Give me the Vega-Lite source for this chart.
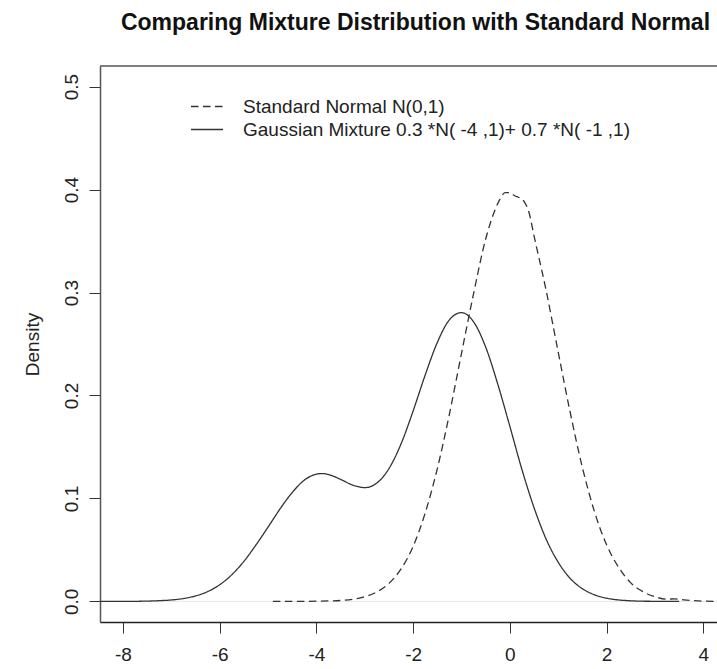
{
  "$schema": "https://vega.github.io/schema/vega-lite/v6.json",
  "width": 617,
  "height": 556,
  "autosize": {"type": "none"},
  "padding": {"left": 100, "top": 66, "right": 0, "bottom": 47},
  "background": "white",
  "config": {"font": "Liberation Sans", "view": {"stroke": null}},
  "title": {
    "text": "Comparing Mixture Distribution with Standard Normal",
    "font": "Liberation Sans",
    "fontSize": 23,
    "fontWeight": "bold",
    "color": "#111111",
    "anchor": "middle",
    "frame": "group",
    "dx": 7,
    "offset": 12,
    "baseline": "alphabetic"
  },
  "datasets": {
    "curves": [
      {"series": "mixture", "x": -8.5, "density": 0.0},
      {"series": "mixture", "x": -8.0, "density": 0.0},
      {"series": "mixture", "x": -7.5, "density": 0.0003},
      {"series": "mixture", "x": -7.25, "density": 0.0007},
      {"series": "mixture", "x": -7.0, "density": 0.0014},
      {"series": "mixture", "x": -6.75, "density": 0.0028},
      {"series": "mixture", "x": -6.5, "density": 0.0053},
      {"series": "mixture", "x": -6.25, "density": 0.0095},
      {"series": "mixture", "x": -6.0, "density": 0.0162},
      {"series": "mixture", "x": -5.75, "density": 0.0259},
      {"series": "mixture", "x": -5.5, "density": 0.0389},
      {"series": "mixture", "x": -5.25, "density": 0.0548},
      {"series": "mixture", "x": -5.0, "density": 0.0722},
      {"series": "mixture", "x": -4.75, "density": 0.09},
      {"series": "mixture", "x": -4.5, "density": 0.1058},
      {"series": "mixture", "x": -4.25, "density": 0.1178},
      {"series": "mixture", "x": -4.0, "density": 0.1236},
      {"series": "mixture", "x": -3.875, "density": 0.1242},
      {"series": "mixture", "x": -3.75, "density": 0.1232},
      {"series": "mixture", "x": -3.5, "density": 0.1185},
      {"series": "mixture", "x": -3.25, "density": 0.113},
      {"series": "mixture", "x": -3.0, "density": 0.1105},
      {"series": "mixture", "x": -2.75, "density": 0.115},
      {"series": "mixture", "x": -2.5, "density": 0.129},
      {"series": "mixture", "x": -2.25, "density": 0.153},
      {"series": "mixture", "x": -2.0, "density": 0.185},
      {"series": "mixture", "x": -1.75, "density": 0.22},
      {"series": "mixture", "x": -1.5, "density": 0.2515},
      {"series": "mixture", "x": -1.25, "density": 0.2735},
      {"series": "mixture", "x": -1.0, "density": 0.2805},
      {"series": "mixture", "x": -0.75, "density": 0.2715},
      {"series": "mixture", "x": -0.5, "density": 0.247},
      {"series": "mixture", "x": -0.25, "density": 0.211},
      {"series": "mixture", "x": 0.0, "density": 0.17},
      {"series": "mixture", "x": 0.25, "density": 0.128},
      {"series": "mixture", "x": 0.5, "density": 0.091},
      {"series": "mixture", "x": 0.75, "density": 0.0605},
      {"series": "mixture", "x": 1.0, "density": 0.038},
      {"series": "mixture", "x": 1.25, "density": 0.0222},
      {"series": "mixture", "x": 1.5, "density": 0.0123},
      {"series": "mixture", "x": 1.75, "density": 0.0064},
      {"series": "mixture", "x": 2.0, "density": 0.0031},
      {"series": "mixture", "x": 2.25, "density": 0.0014},
      {"series": "mixture", "x": 2.5, "density": 0.0006},
      {"series": "mixture", "x": 2.75, "density": 0.0002},
      {"series": "mixture", "x": 3.0, "density": 0.0001},
      {"series": "mixture", "x": 3.5, "density": 0.0},
      {"series": "normal", "x": -4.9, "density": 0.0},
      {"series": "normal", "x": -4.5, "density": 0.0},
      {"series": "normal", "x": -4.0, "density": 0.0002},
      {"series": "normal", "x": -3.5, "density": 0.0009},
      {"series": "normal", "x": -3.25, "density": 0.002},
      {"series": "normal", "x": -3.0, "density": 0.0045},
      {"series": "normal", "x": -2.75, "density": 0.0092},
      {"series": "normal", "x": -2.5, "density": 0.0175},
      {"series": "normal", "x": -2.25, "density": 0.0315},
      {"series": "normal", "x": -2.0, "density": 0.0535},
      {"series": "normal", "x": -1.75, "density": 0.086},
      {"series": "normal", "x": -1.5, "density": 0.129},
      {"series": "normal", "x": -1.25, "density": 0.182},
      {"series": "normal", "x": -1.0, "density": 0.241},
      {"series": "normal", "x": -0.75, "density": 0.299},
      {"series": "normal", "x": -0.5, "density": 0.352},
      {"series": "normal", "x": -0.3, "density": 0.381},
      {"series": "normal", "x": -0.2, "density": 0.391},
      {"series": "normal", "x": -0.1, "density": 0.397},
      {"series": "normal", "x": 0.0, "density": 0.397},
      {"series": "normal", "x": 0.1, "density": 0.394},
      {"series": "normal", "x": 0.2, "density": 0.392},
      {"series": "normal", "x": 0.3, "density": 0.388},
      {"series": "normal", "x": 0.4, "density": 0.377},
      {"series": "normal", "x": 0.5, "density": 0.355},
      {"series": "normal", "x": 0.75, "density": 0.302},
      {"series": "normal", "x": 1.0, "density": 0.242},
      {"series": "normal", "x": 1.25, "density": 0.183},
      {"series": "normal", "x": 1.5, "density": 0.13},
      {"series": "normal", "x": 1.75, "density": 0.087},
      {"series": "normal", "x": 2.0, "density": 0.055},
      {"series": "normal", "x": 2.25, "density": 0.033},
      {"series": "normal", "x": 2.5, "density": 0.018},
      {"series": "normal", "x": 2.75, "density": 0.0095},
      {"series": "normal", "x": 3.0, "density": 0.0045},
      {"series": "normal", "x": 3.25, "density": 0.0022},
      {"series": "normal", "x": 3.4, "density": 0.0025},
      {"series": "normal", "x": 3.6, "density": 0.0015},
      {"series": "normal", "x": 4.0, "density": 0.0003},
      {"series": "normal", "x": 4.5, "density": 0.0}
    ]
  },
  "layer": [
    {
      "data": {"values": [{"level": 0}]},
      "mark": {"type": "rule", "color": "#e6e6e6", "strokeWidth": 1},
      "encoding": {"y": {"field": "level", "type": "quantitative"}}
    },
    {
      "data": {"values": [{"level": 0.52}]},
      "mark": {"type": "rule", "color": "#555555", "strokeWidth": 1.5},
      "encoding": {"y": {"field": "level", "type": "quantitative"}}
    },
    {
      "data": {"name": "curves"},
      "mark": {"type": "line", "clip": true, "color": "#333333", "strokeWidth": 1.3, "interpolate": "monotone"},
      "encoding": {
        "x": {
          "field": "x",
          "type": "quantitative",
          "scale": {"domain": [-8.475, 4.283], "nice": false, "zero": false},
          "axis": {
            "values": [-8, -6, -4, -2, 0, 2, 4],
            "labelExpr": "datum.value < 0 ? '-' + abs(datum.value) : '' + datum.value",
            "title": null,
            "grid": false,
            "labelFontSize": 19,
            "labelColor": "#222222",
            "labelPadding": 12,
            "labelFlush": false,
            "labelOverlap": false,
            "tickSize": 11,
            "tickColor": "#333333",
            "tickWidth": 1,
            "domainColor": "#222222",
            "domainWidth": 1.5
          }
        },
        "y": {
          "field": "density",
          "type": "quantitative",
          "scale": {"domain": [-0.02, 0.52], "nice": false, "zero": false},
          "axis": {
            "values": [0, 0.1, 0.2, 0.3, 0.4, 0.5],
            "format": ".1f",
            "title": "Density",
            "titleFontSize": 19,
            "titleFontWeight": "normal",
            "titleColor": "#222222",
            "titlePadding": 20,
            "grid": false,
            "labelAngle": 270,
            "labelAlign": "center",
            "labelBaseline": "alphabetic",
            "labelFontSize": 19,
            "labelColor": "#222222",
            "labelPadding": 12,
            "labelFlush": false,
            "labelOverlap": false,
            "tickSize": 11,
            "tickColor": "#333333",
            "domainColor": "#555555",
            "domainWidth": 1.5
          }
        },
        "strokeDash": {
          "field": "series",
          "type": "nominal",
          "scale": {"domain": ["normal", "mixture"], "range": [[7.5, 4.5], [1, 0]]},
          "legend": {
            "title": null,
            "orient": "none",
            "legendX": 90,
            "legendY": 29,
            "padding": 0,
            "symbolType": "stroke",
            "symbolSize": 1024,
            "symbolStrokeColor": "#333333",
            "symbolStrokeWidth": 1.3,
            "labelFontSize": 19,
            "labelColor": "#222222",
            "labelLimit": 600,
            "labelOffset": 19,
            "clipHeight": 23,
            "rowPadding": 0,
            "labelExpr": "datum.value == 'normal' ? 'Standard Normal N(0,1)' : 'Gaussian Mixture 0.3 *N( -4 ,1)+ 0.7 *N( -1 ,1)'"
          }
        }
      }
    }
  ]
}
